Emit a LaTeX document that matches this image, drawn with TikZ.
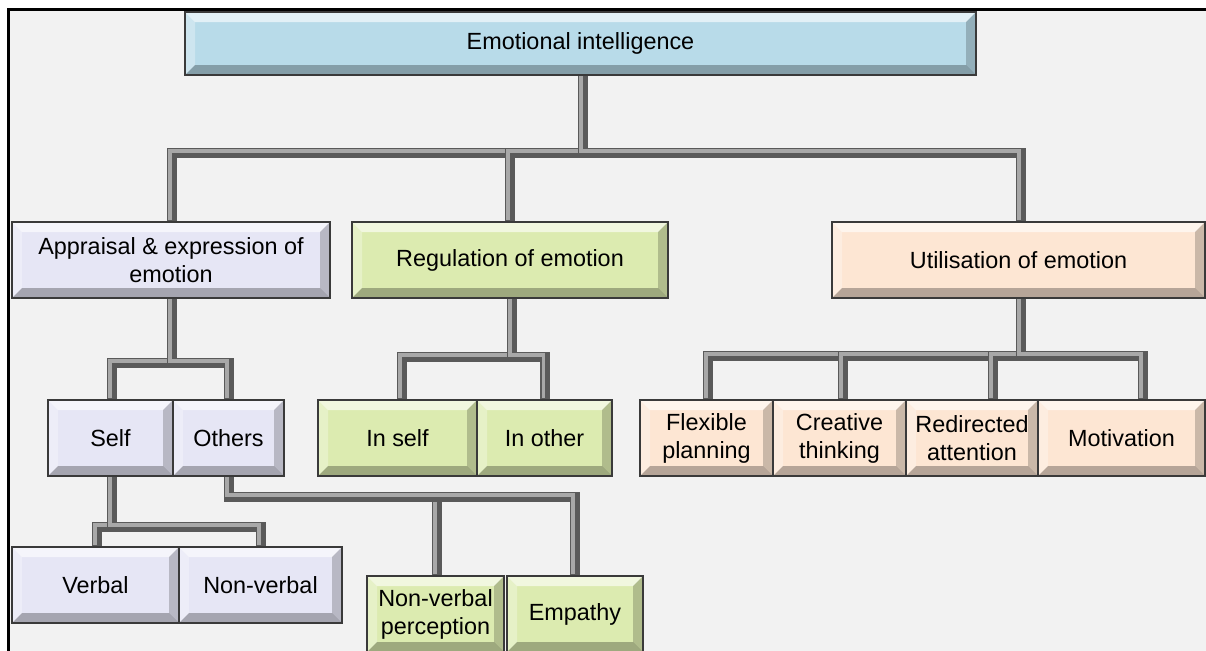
\documentclass[tikz,border=0pt]{standalone}
\usepackage{fontspec}
\setmainfont{Liberation Sans}
\usetikzlibrary{calc,backgrounds}
\definecolor{bgc}{HTML}{F2F2F2}
\definecolor{eiblue}{HTML}{B8DBE9}
\definecolor{lav}{HTML}{E6E6F5}
\definecolor{lgreen}{HTML}{DCEBB0}
\definecolor{peach}{HTML}{FDE6D3}
\definecolor{pipedark}{HTML}{5A5A5A}
\definecolor{pipelight}{HTML}{A8A8A8}
\definecolor{edgec}{HTML}{3A3A3A}
\tikzset{
  bevel/.style={path picture={
    \fill[white,opacity=.6] (path picture bounding box.north west) -- (path picture bounding box.north east) -- ++(-5pt,-5pt) -- ($(path picture bounding box.north west)+(5pt,-5pt)$) -- cycle;
    \fill[white,opacity=.3] (path picture bounding box.north west) -- (path picture bounding box.south west) -- ++(5pt,5pt) -- ($(path picture bounding box.north west)+(5pt,-5pt)$) -- cycle;
    \fill[black,opacity=.28] (path picture bounding box.south west) -- (path picture bounding box.south east) -- ++(-5pt,5pt) -- ($(path picture bounding box.south west)+(5pt,5pt)$) -- cycle;
    \fill[black,opacity=.2] (path picture bounding box.north east) -- (path picture bounding box.south east) -- ++(-5pt,5pt) -- ($(path picture bounding box.north east)+(-5pt,-5pt)$) -- cycle;
  }},
  box/.style={draw=edgec, line width=0.6pt, bevel, align=center, inner sep=0pt,
    minimum height=38pt, font=\fontsize{11.7}{14}\selectfont},
  pipe/.style={draw=pipedark, line width=5pt, line join=miter,
    postaction={draw=pipelight, line width=1.8pt, transform canvas={xshift=-0.9pt,yshift=0.9pt}}}
}
\begin{document}
\begin{tikzpicture}[x=0.5pt,y=-0.5pt]
\useasboundingbox (0,0) rectangle (1206,650);
\clip (0,0) rectangle (1206,650);

% nodes
\node[box, fill=eiblue, minimum width=395.5pt, minimum height=31.5pt] (ei) at (580.5,43.5) {Emotional intelligence};

\node[box, fill=lav, minimum width=159pt] (app) at (171,260) {Appraisal \& expression of\\emotion};
\node[box, fill=lgreen, minimum width=158pt] (reg) at (510,260) {Regulation of emotion};
\node[box, fill=peach, minimum width=186.5pt] (uti) at (1018.5,260) {Utilisation of emotion};

\node[box, fill=lav, minimum width=62.5pt] (self) at (110.5,438) {Self};
\node[box, fill=lav, minimum width=55.5pt] (others) at (228.5,438) {Others};
\node[box, fill=lav, minimum width=83.5pt] (verbal) at (95.5,585) {Verbal};
\node[box, fill=lav, minimum width=81.5pt] (nonverbal) at (260.5,585) {Non-verbal};

\node[box, fill=lgreen, minimum width=79.5pt] (inself) at (397.5,438) {In self};
\node[box, fill=lgreen, minimum width=67.5pt] (inother) at (544.5,438) {In other};
\node[box, fill=lgreen, minimum width=68.5pt] (nvp) at (435.5,614) {Non-verbal\\perception};
\node[box, fill=lgreen, minimum width=68pt] (empathy) at (575,614) {Empathy};

\node[box, fill=peach, minimum width=66.5pt] (flex) at (706.5,438) {Flexible\\planning};
\node[box, fill=peach, minimum width=66.5pt] (creative) at (839.5,438) {Creative\\thinking};
\node[box, fill=peach, minimum width=66pt] (redirected) at (972,438) {Redirected\\attention};
\node[box, fill=peach, minimum width=83.5pt] (motivation) at (1121.5,438) {Motivation};

\begin{scope}[on background layer]
  \clip (0,0) rectangle (1206,650);
  \fill[white] (0,0) rectangle (1206,650);
  \fill[bgc] (8.5,9.5) rectangle (1210,660);
  \draw[line width=1.5pt] (1220,9.5) -- (8.5,9.5) -- (8.5,670);

  % level 1
  \draw[pipe] ([xshift=1.2pt]ei.south) -- ++(0,77) -| ([xshift=0.5pt]app.north);
  \draw[pipe] ([xshift=1.2pt]ei.south) -- ++(0,77) -| (reg.north);
  \draw[pipe] ([xshift=1.2pt]ei.south) -- ++(0,77) -| ([xshift=1pt]uti.north);

  % appraisal
  \draw[pipe] ([xshift=0.5pt]app.south) -- ++(0,64) -| ([xshift=0.7pt]self.north);
  \draw[pipe] ([xshift=0.5pt]app.south) -- ++(0,64) -| (others.north);
  \draw[pipe] ([xshift=0.7pt]self.south) -- ++(0,50) -| ([xshift=0.7pt]verbal.north);
  \draw[pipe] ([xshift=0.7pt]self.south) -- ++(0,50) -| (nonverbal.north);
  \draw[pipe] (others.south) -- ++(0,20) -| ([xshift=0.7pt]nvp.north);
  \draw[pipe] (others.south) -- ++(0,20) -| (empathy.north);

  % regulation
  \draw[pipe] ([xshift=1pt]reg.south) -- ++(0,58) -| ([xshift=2.2pt]inself.north);
  \draw[pipe] ([xshift=1pt]reg.south) -- ++(0,58) -| ([xshift=0.3pt]inother.north);

  % utilisation
  \draw[pipe] ([xshift=1.2pt]uti.south) -- ++(0,57) -| ([xshift=0.7pt]flex.north);
  \draw[pipe] ([xshift=1.2pt]uti.south) -- ++(0,57) -| ([xshift=1.7pt]creative.north);
  \draw[pipe] ([xshift=1.2pt]uti.south) -- ++(0,57) -| ([xshift=10.5pt]redirected.north);
  \draw[pipe] ([xshift=1.2pt]uti.south) -- ++(0,57) -| ([xshift=10.7pt]motivation.north);
\end{scope}
\end{tikzpicture}
\end{document}
